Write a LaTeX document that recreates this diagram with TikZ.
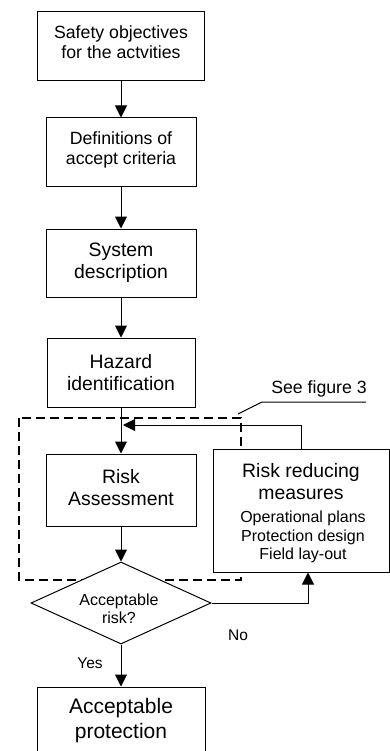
\documentclass[tikz,border=0pt]{standalone}
\usepackage{fontspec}
\setmainfont{Liberation Sans}
\usetikzlibrary{shapes.geometric,arrows.meta}
\begin{document}
\begin{tikzpicture}[x=1pt,y=-1pt,
  box/.style={draw, line width=1pt, fill=white, inner sep=0pt, align=center},
  arr/.style={line width=1pt, -{Triangle[length=12pt,width=12pt]}},
  thin line/.style={line width=1pt},
  dashbox/.style={line width=1.6pt, dash pattern=on 9pt off 5pt},
  fA/.style={font=\fontsize{17.7}{20}\selectfont},
  fB/.style={font=\fontsize{19.4}{22}\selectfont},
  fC/.style={font=\fontsize{21}{25}\selectfont},
  fD/.style={font=\fontsize{16}{18.5}\selectfont},
  fE/.style={font=\fontsize{15.5}{18}\selectfont},
  ]
\path[use as bounding box, clip] (0,0) rectangle (390,751);
\fill[white] (0,0) rectangle (390,751);

% dashed frame (see figure 3)
\draw[dashbox] (19,418) rectangle (241,580);

% main column
\node[box, fA, text depth=8pt, minimum width=167, minimum height=69] (b1) at (121,46.5) {Safety objectives\\for the actvities};
\node[box, fA, text depth=9pt, minimum width=150, minimum height=69] (b2) at (121,152.5) {Definitions of\\accept criteria};
\node[box, fB, minimum width=150, minimum height=68] (b3) at (121,263) {System\\description};
\node[box, fB, minimum width=148, minimum height=69] (b4) at (121,372.5) {Hazard\\identification};
\node[box, fB, text depth=5pt, minimum width=150, minimum height=72] (b5) at (121,490) {Risk\\Assessment};
\node[box, diamond, aspect=2.2, minimum width=180, minimum height=82] (dia) at (121,603) {};
\node[fD, align=center, inner sep=0pt] (diat) at (119,609) {Acceptable\\risk?};
\node[box, fC, minimum width=168, minimum height=68] (fin) at (121,721) {Acceptable\\protection};

% risk reducing measures
\node[box, minimum width=176, minimum height=123] (rr) at (301,510.5) {};
\node[fB, align=center, inner sep=0pt] (rrt) at (301,482) {Risk reducing\\measures};
\node[fD, align=center, inner sep=0pt] (rrs) at (303,537) {Operational plans\\Protection design\\Field lay-out};

% connectors
\draw[arr] (b1) -- (b2);
\draw[arr] (b2) -- (b3);
\draw[arr] (b3) -- (b4);
\draw[arr] (b4) -- (b5);
\draw[arr] (b5) -- (dia);
\draw[arr] (dia) -- (fin);
\coordinate (fb) at (123,425);
\draw[arr] (rr.north) |- (fb);
\draw[arr] (dia.east) -| ([xshift=7pt]rr.south);

% labels
\node[fE, inner sep=0pt] (no) at (238,635) {No};
\node[fE, inner sep=0pt] (yes) at (90,663) {Yes};
\node[fA, inner sep=0pt] (see) at (319,389) {See figure 3};
\coordinate (ul1) at (366,402);
\coordinate (ul2) at (262,402);
\coordinate (ul3) at (238,414);
\draw[thin line] (ul1) -- (ul2) -- (ul3);
\end{tikzpicture}
\end{document}
